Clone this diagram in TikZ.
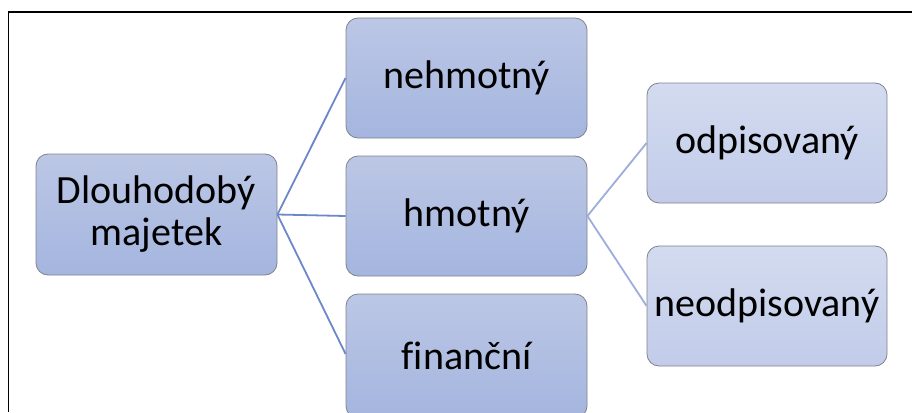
\documentclass[tikz,border=0pt]{standalone}
\usepackage{fontspec}
\setmainfont{Carlito}[Ligatures=NoCommon]
\definecolor{lvtop}{HTML}{BCC7E5}
\definecolor{lvbot}{HTML}{A4B5DF}
\definecolor{lttop}{HTML}{D3DBEF}
\definecolor{ltbot}{HTML}{C2CCEA}
\definecolor{edgegray}{HTML}{7F838C}
\definecolor{linkA}{HTML}{6D88CA}
\definecolor{linkB}{HTML}{9CAEDC}
\tikzset{
  box/.style={rectangle, rounded corners=12pt, draw=edgegray, line width=0.8pt,
    top color=lvtop, bottom color=lvbot, align=center, inner sep=0pt,
    minimum width=241pt, minimum height=120pt,
    font=\fontsize{40}{42}\selectfont},
  lightbox/.style={box, top color=lttop, bottom color=ltbot, minimum width=240pt},
  linkone/.style={draw=linkA, line width=1.8pt},
  linktwo/.style={draw=linkB, line width=1.8pt}
}
\begin{document}
\begin{tikzpicture}[x=1pt,y=-1pt]
\useasboundingbox (0,0) rectangle (912,412);
\fill[white] (0,0) rectangle (912,412);
\coordinate (fa) at (8.5,412);
\coordinate (fb) at (8.5,12);
\coordinate (fc) at (912,12);
\draw[line width=1.5pt, black] (fa) -- (fb) -- (fc);
\node[box, minimum height=121pt] (root) at (156.5,214.5) {Dlouhodobý\\majetek};
\node[box] (neh) at (466.5,78) {nehmotný};
\node[box] (hmo) at (466.5,216) {hmotný};
\node[box, minimum height=124pt] (fin) at (466.5,356) {finanční};
\node[lightbox] (odp) at (767,143) {odpisovaný};
\node[lightbox] (neo) at (767,306) {neodpisovaný};
\coordinate (finin) at (fin.west |- 0,354);
\draw[linkone] (root.east) -- (neh.west);
\draw[linkone] (root.east) -- (hmo.west);
\draw[linkone] (root.east) -- (finin);
\draw[linktwo] (hmo.east) -- (odp.west);
\draw[linktwo] (hmo.east) -- (neo.west);
\end{tikzpicture}
\end{document}
